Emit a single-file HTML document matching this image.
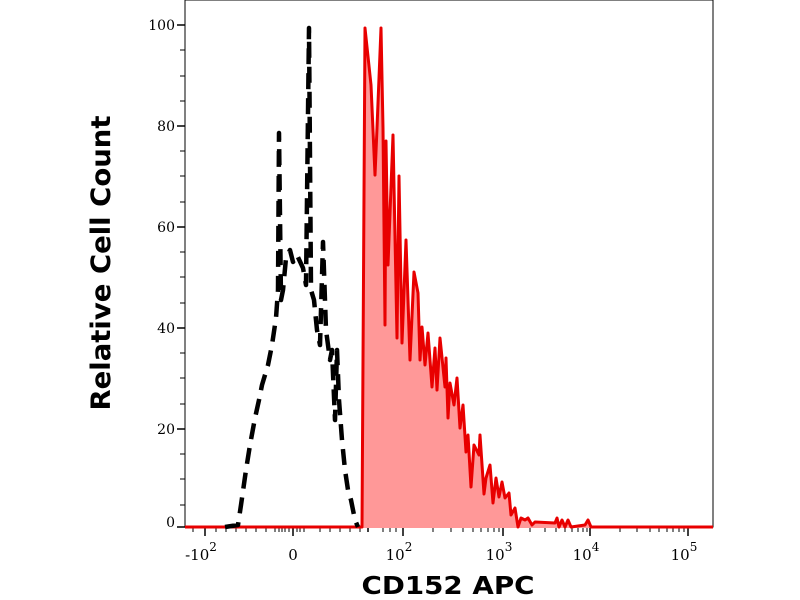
<!DOCTYPE html>
<html><head><meta charset="utf-8"><style>body{margin:0;background:#fff}svg{display:block}</style></head><body>
<svg width="800" height="600" viewBox="0 0 800 600" xmlns="http://www.w3.org/2000/svg">
<rect width="800" height="600" fill="#fff"/>
<rect x="185" y="0" width="528" height="527" fill="none" stroke="#000" stroke-width="1"/>
<g stroke="#000" stroke-width="1.5">
<line x1="177" y1="25" x2="185" y2="25"/><line x1="177" y1="126" x2="185" y2="126"/><line x1="177" y1="227" x2="185" y2="227"/><line x1="177" y1="328" x2="185" y2="328"/><line x1="177" y1="429" x2="185" y2="429"/><line x1="177" y1="527" x2="185" y2="527"/>
</g>
<g stroke="#000" stroke-width="1">
<line x1="180" y1="50" x2="185" y2="50"/><line x1="180" y1="76" x2="185" y2="76"/><line x1="180" y1="101" x2="185" y2="101"/>
<line x1="180" y1="151" x2="185" y2="151"/><line x1="180" y1="176" x2="185" y2="176"/><line x1="180" y1="202" x2="185" y2="202"/>
<line x1="180" y1="252" x2="185" y2="252"/><line x1="180" y1="277" x2="185" y2="277"/><line x1="180" y1="303" x2="185" y2="303"/>
<line x1="180" y1="353" x2="185" y2="353"/><line x1="180" y1="378" x2="185" y2="378"/><line x1="180" y1="404" x2="185" y2="404"/>
<line x1="180" y1="454" x2="185" y2="454"/><line x1="180" y1="479" x2="185" y2="479"/><line x1="180" y1="505" x2="185" y2="505"/>
</g>
<g font-family="DejaVu Serif, serif" font-size="14" text-anchor="end" fill="#000">
<text x="175" y="30">100</text><text x="175" y="131">80</text><text x="175" y="232">60</text><text x="175" y="333">40</text><text x="175" y="434">20</text><text x="175" y="527">0</text>
</g>
<g stroke="#000" stroke-width="1.5">
<line x1="205" y1="527" x2="205" y2="536"/><line x1="293" y1="527" x2="293" y2="536"/><line x1="368" y1="527" x2="368" y2="532"/><line x1="403" y1="527" x2="403" y2="536"/><line x1="503" y1="527" x2="503" y2="536"/><line x1="590" y1="527" x2="590" y2="536"/><line x1="688" y1="527" x2="688" y2="536"/>
</g>
<g stroke="#000" stroke-width="1">
<line x1="193" y1="527" x2="193" y2="532"/><line x1="216" y1="527" x2="216" y2="532"/><line x1="226" y1="527" x2="226" y2="532"/><line x1="236" y1="527" x2="236" y2="532"/><line x1="246" y1="527" x2="246" y2="532"/><line x1="256" y1="527" x2="256" y2="532"/><line x1="266" y1="527" x2="266" y2="532"/>
<line x1="275" y1="527" x2="275" y2="532"/><line x1="279" y1="527" x2="279" y2="532"/><line x1="282" y1="527" x2="282" y2="532"/><line x1="285" y1="527" x2="285" y2="532"/><line x1="289" y1="527" x2="289" y2="532"/>
<line x1="297" y1="527" x2="297" y2="532"/><line x1="300" y1="527" x2="300" y2="532"/><line x1="304" y1="527" x2="304" y2="532"/><line x1="320" y1="527" x2="320" y2="532"/><line x1="330" y1="527" x2="330" y2="532"/><line x1="340" y1="527" x2="340" y2="532"/><line x1="350" y1="527" x2="350" y2="532"/><line x1="360" y1="527" x2="360" y2="532"/>
<line x1="383" y1="527" x2="383" y2="532"/><line x1="390" y1="527" x2="390" y2="532"/><line x1="396" y1="527" x2="396" y2="532"/>
<line x1="433" y1="527" x2="433" y2="532"/><line x1="451" y1="527" x2="451" y2="532"/><line x1="463" y1="527" x2="463" y2="532"/><line x1="473" y1="527" x2="473" y2="532"/><line x1="481" y1="527" x2="481" y2="532"/><line x1="488" y1="527" x2="488" y2="532"/><line x1="494" y1="527" x2="494" y2="532"/><line x1="499" y1="527" x2="499" y2="532"/>
<line x1="530" y1="527" x2="530" y2="532"/><line x1="545" y1="527" x2="545" y2="532"/><line x1="556" y1="527" x2="556" y2="532"/><line x1="565" y1="527" x2="565" y2="532"/><line x1="572" y1="527" x2="572" y2="532"/><line x1="578" y1="527" x2="578" y2="532"/><line x1="583" y1="527" x2="583" y2="532"/><line x1="587" y1="527" x2="587" y2="532"/>
<line x1="620" y1="527" x2="620" y2="532"/><line x1="637" y1="527" x2="637" y2="532"/><line x1="650" y1="527" x2="650" y2="532"/><line x1="659" y1="527" x2="659" y2="532"/><line x1="667" y1="527" x2="667" y2="532"/><line x1="673" y1="527" x2="673" y2="532"/><line x1="679" y1="527" x2="679" y2="532"/><line x1="684" y1="527" x2="684" y2="532"/>
</g>
<g font-family="DejaVu Serif, serif" font-size="15" fill="#000" text-anchor="middle">
<text x="201" y="560">-10<tspan font-size="12" dy="-9">2</tspan></text>
<text x="293" y="560">0</text>
<text x="399" y="560">10<tspan font-size="12" dy="-9">2</tspan></text>
<text x="499" y="560">10<tspan font-size="12" dy="-9">3</tspan></text>
<text x="586" y="560">10<tspan font-size="12" dy="-9">4</tspan></text>
<text x="684" y="560">10<tspan font-size="12" dy="-9">5</tspan></text>
</g>
<polygon fill="#ff9898" stroke="none" points="362,527 365,28 371,85 375,175 377,128 381,28 383,128 385,325 386,141 388,265 393,135 397,338 399,176 402,343 406,240 410,360 414,272 418,293 420,360 422,327 425,365 428,333 432,387 435,348 437,390 440,338 445,387 446,358 448,418 450,383 454,405 457,378 460,428 463,405 466,452 468,435 471,487 474,445 479,455 480,435 484,494 486,478 490,465 493,503 496,478 499,497 502,482 505,498 509,493 511,515 515,508 518,527 521,518 525,520 528,518 532,525 535,522 555,523 557,518 559,527 562,520 565,527 568,520 571,527 585,525 588,520 591,527 713,527 713,528 362,528"/>
<polyline fill="none" stroke="#e80000" stroke-width="3" stroke-linejoin="round" points="185,527 362,527 365,28 371,85 375,175 377,128 381,28 383,128 385,325 386,141 388,265 393,135 397,338 399,176 402,343 406,240 410,360 414,272 418,293 420,360 422,327 425,365 428,333 432,387 435,348 437,390 440,338 445,387 446,358 448,418 450,383 454,405 457,378 460,428 463,405 466,452 468,435 471,487 474,445 479,455 480,435 484,494 486,478 490,465 493,503 496,478 499,497 502,482 505,498 509,493 511,515 515,508 518,527 521,518 525,520 528,518 532,525 535,522 555,523 557,518 559,527 562,520 565,527 568,520 571,527 585,525 588,520 591,527 713,527"/>
<polyline fill="none" stroke="#000" stroke-width="4.5" stroke-dasharray="16,9" stroke-linejoin="round" points="225,527 238,525 241,505 246,470 250,445 255,418 259,400 262,385 268,365 272,345 276,318 278,290 279,133 281,300 283,290 286,258 290,250 293,262 297,255 303,268 306,285 309,28 311,290 314,300 317,330 320,345 323,242 326,330 330,360 332,350 335,420 337,350 339,400 342,440 345,470 348,490 351,500 355,520 358,527"/>
<text transform="translate(110,263) rotate(-90)" font-family="DejaVu Sans, sans-serif" font-weight="bold" font-size="27" text-anchor="middle" textLength="295" lengthAdjust="spacingAndGlyphs" fill="#000">Relative Cell Count</text>
<text x="448" y="594" font-family="DejaVu Sans, sans-serif" font-weight="bold" font-size="25" text-anchor="middle" textLength="173" lengthAdjust="spacingAndGlyphs" fill="#000">CD152 APC</text>
</svg>
</body></html>
